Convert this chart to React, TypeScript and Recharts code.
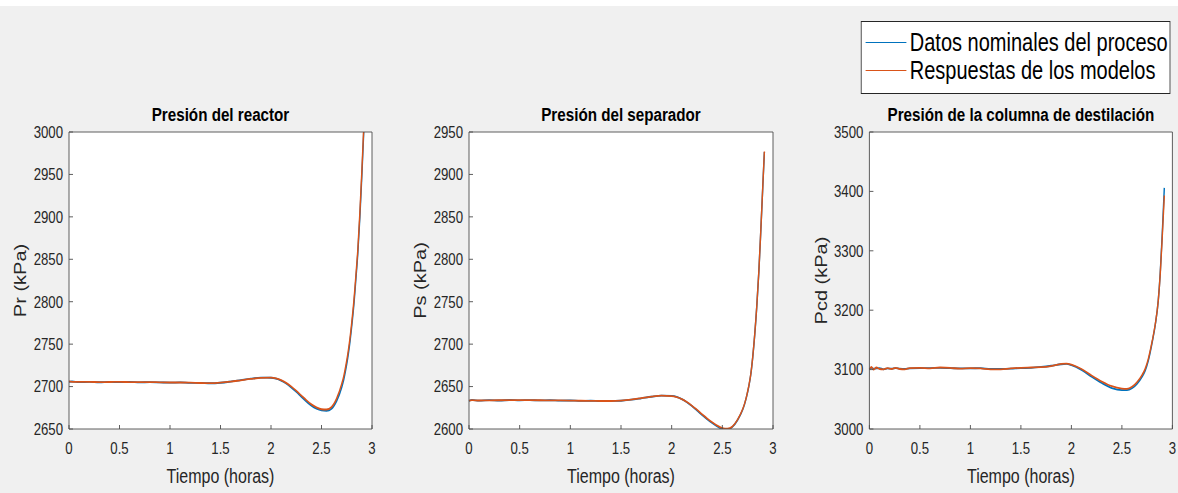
import React from 'react';
import { LineChart, Line, XAxis, YAxis, CartesianGrid, Legend } from 'recharts';

const FONT = "'Liberation Sans', Arial, Helvetica, sans-serif";

const seriesNames = ['Datos nominales del proceso', 'Respuestas de los modelos'];
const seriesColors = ['#0072BD', '#D95319'];
const panelTitles = ['Presión del reactor', 'Presión del separador', 'Presión de la columna de destilación'];
const yLabels = ['Pr (kPa)', 'Ps (kPa)', 'Pcd (kPa)'];
const xLabel = 'Tiempo (horas)';

const xTicks = [0, 0.5, 1, 1.5, 2, 2.5, 3];
const reactorTicks = [2650, 2700, 2750, 2800, 2850, 2900, 2950, 3000];
const separatorTicks = [2600, 2650, 2700, 2750, 2800, 2850, 2900, 2950];
const columnTicks = [3000, 3100, 3200, 3300, 3400, 3500];

const reactorTime = [0, 0.03, 0.1, 0.2, 0.3, 0.4, 0.5, 0.6, 0.7, 0.8, 0.9, 1.0, 1.1, 1.2, 1.3, 1.4, 1.5, 1.6, 1.7, 1.8, 1.9, 2.0, 2.05, 2.1, 2.15, 2.2, 2.25, 2.3, 2.35, 2.4, 2.45, 2.5, 2.55, 2.6, 2.65, 2.7, 2.72, 2.74, 2.76, 2.78, 2.8, 2.82, 2.84, 2.86, 2.88, 2.9, 2.92];
const reactorNominal = [2705.5, 2706, 2705.2, 2705.6, 2705.1, 2705.5, 2705.3, 2705.4, 2705, 2705.2, 2704.9, 2704.6, 2704.9, 2704.4, 2704.3, 2703.9, 2704.5, 2705.9, 2707.6, 2709.3, 2710.5, 2710.4, 2709.3, 2707, 2703.6, 2699, 2693.8, 2688, 2682.5, 2677.5, 2674, 2672, 2671.5, 2674, 2683, 2699, 2708, 2720, 2734, 2751, 2772, 2796, 2826, 2858, 2900, 2950, 3005];
const reactorModel = [2706, 2705.5, 2705.5, 2705.5, 2705.3, 2705.4, 2705.5, 2705.3, 2705.2, 2705.3, 2705, 2704.8, 2704.8, 2704.6, 2704.2, 2704, 2704.6, 2705.8, 2707.4, 2709, 2710.3, 2710.5, 2709.6, 2707.5, 2704.3, 2700, 2695, 2689.5, 2684, 2679, 2675.5, 2673.3, 2673, 2676, 2686, 2703, 2712, 2724, 2738, 2755, 2776, 2800, 2830, 2862, 2905, 2955, 3010];

const separatorTime = [0, 0.03, 0.1, 0.2, 0.3, 0.4, 0.5, 0.6, 0.7, 0.8, 0.9, 1.0, 1.1, 1.2, 1.3, 1.4, 1.5, 1.6, 1.7, 1.8, 1.9, 2.0, 2.05, 2.1, 2.15, 2.2, 2.25, 2.3, 2.35, 2.4, 2.45, 2.5, 2.55, 2.6, 2.65, 2.7, 2.72, 2.74, 2.76, 2.78, 2.8, 2.82, 2.84, 2.86, 2.88, 2.9, 2.915];
const separatorNominal = [2633, 2634.3, 2633.4, 2634, 2633.6, 2634.2, 2633.8, 2634.1, 2633.7, 2633.9, 2633.5, 2633.6, 2633.1, 2633.3, 2632.8, 2633.1, 2633.3, 2634.5, 2636.2, 2638, 2639.4, 2639, 2637.8, 2635.3, 2631.6, 2627, 2621.8, 2616.6, 2611.6, 2607, 2603, 2600, 2599.6, 2602.5, 2610.5, 2622.5, 2629.5, 2638.5, 2649.5, 2663.5, 2684.5, 2711.5, 2744.5, 2784.5, 2834.5, 2887.5, 2926.5];
const separatorModel = [2633.5, 2634, 2633.6, 2633.8, 2633.9, 2634, 2634, 2634, 2633.9, 2633.8, 2633.7, 2633.5, 2633.3, 2633.2, 2633, 2633, 2633.4, 2634.6, 2636.4, 2638.2, 2639.3, 2638.8, 2637.5, 2635.2, 2631.8, 2627.5, 2622.6, 2617.5, 2612.5, 2608, 2604, 2601, 2600.3, 2603, 2611, 2623, 2630, 2639, 2650, 2664, 2685, 2712, 2745, 2785, 2835, 2888, 2927];

const columnTime = [0, 0.02, 0.04, 0.07, 0.1, 0.14, 0.18, 0.22, 0.26, 0.3, 0.35, 0.4, 0.5, 0.6, 0.7, 0.8, 0.9, 1.0, 1.1, 1.2, 1.3, 1.4, 1.5, 1.6, 1.7, 1.8, 1.9, 1.95, 2.0, 2.1, 2.2, 2.3, 2.4, 2.5, 2.55, 2.6, 2.65, 2.7, 2.73, 2.76, 2.8, 2.83, 2.86, 2.88, 2.9, 2.92];
const columnNominal = [3101, 3103, 3101.5, 3102, 3102.5, 3100.5, 3102, 3101.5, 3102.5, 3101.5, 3101, 3102, 3102.5, 3102.5, 3103, 3102.5, 3102, 3102, 3102.5, 3101, 3101, 3101.5, 3102.5, 3103, 3104.5, 3106.5, 3109, 3109.5, 3107.5, 3099.5, 3088, 3077.5, 3069, 3065.5, 3065.5, 3068.5, 3076, 3088, 3098, 3114, 3146, 3175, 3216, 3264, 3330, 3406];
const columnModel = [3100, 3104.5, 3100, 3103.5, 3101, 3100.5, 3102.5, 3101, 3103, 3101, 3100.5, 3102.5, 3103, 3102, 3103.5, 3103, 3101.5, 3102.5, 3102, 3100.5, 3100.5, 3102, 3103, 3103.5, 3104, 3106, 3109.5, 3110, 3108.5, 3101, 3090, 3080, 3072, 3068, 3067.5, 3071, 3079, 3091, 3101, 3117, 3148, 3176, 3216, 3262, 3325, 3393];

const buildRows = (time: number[], nominal: number[], model: number[]) =>
  time.map((t, i) => ({ t, nominal: nominal[i], model: model[i] }));

// The reference figure is horizontally compressed; draw wider and squeeze.
const S = 0.8;
const AXIS_COLOR = '#4d4d4d';
const TICK_COLOR = '#262626';

const LEGEND_W = 309 / S;
const renderLegend = (props: any) => {
  const payload = props.payload || [];
  return (
    <div
      style={{
        width: LEGEND_W,
        height: 73,
        boxSizing: 'border-box',
        border: '1px solid #262626',
        background: '#ffffff',
        position: 'relative',
        fontFamily: FONT,
      }}
    >
      {payload.map((p: any, i: number) => (
        <div
          key={i}
          style={{ position: 'absolute', left: 5, top: 6 + i * 28, height: 28, display: 'flex', alignItems: 'center' }}
        >
          <div style={{ width: 51, height: 0, borderTop: `1.5px solid ${p.color}` }} />
          <span style={{ marginLeft: 4, fontSize: 25, color: '#000', lineHeight: '28px', whiteSpace: 'nowrap' }}>
            {p.value}
          </span>
        </div>
      ))}
    </div>
  );
};

type PanelProps = {
  left: number;
  width: number;
  plotLeft: number;
  plotRight: number;
  data: any[];
  yDomain: [number, number];
  yTicks: number[];
  title: string;
  yLabel: string;
  yLabelX: number;
  showLegend?: boolean;
};

const PLOT_TOP = 132;
const PLOT_BOTTOM = 429;
const H = 493;
const Y_AXIS_W = 60 / S;
const X_AXIS_H = 60;

function Panel(p: PanelProps) {
  const left = p.left / S;
  const width = p.width / S;
  const plotLeft = p.plotLeft / S;
  const plotRight = p.plotRight / S;
  const margin = {
    top: PLOT_TOP - 1,
    bottom: H - PLOT_BOTTOM - X_AXIS_H,
    left: plotLeft - left - Y_AXIS_W,
    right: left + width - plotRight - 1,
  };
  const yLabelOffset = (p.yLabelX - p.left) / S - margin.left;
  return (
    <div style={{ position: 'absolute', left, top: 0, width, height: H }}>
      <LineChart width={width} height={H} data={p.data} margin={margin}>
        <CartesianGrid fill="#ffffff" horizontal={false} vertical={false} />
        <XAxis
          dataKey="t"
          type="number"
          domain={[0, 3]}
          ticks={xTicks}
          interval={0}
          height={X_AXIS_H}
          stroke={AXIS_COLOR}
          tickSize={-4}
          tickMargin={17}
          tick={{ fill: TICK_COLOR, fontSize: 16.5, fontFamily: FONT }}
          label={{ value: xLabel, position: 'insideBottom', offset: 6, fill: TICK_COLOR, fontSize: 20, fontFamily: FONT }}
        />
        <XAxis
          xAxisId="top"
          orientation="top"
          dataKey="t"
          type="number"
          domain={[0, 3]}
          ticks={xTicks}
          interval={0}
          height={1}
          stroke={AXIS_COLOR}
          tickSize={-4}
          tick={false}
          label={{ value: p.title, position: 'top', offset: 9.5, fill: '#000', fontSize: 19, fontWeight: 'bold', fontFamily: FONT }}
        />
        <YAxis
          type="number"
          domain={p.yDomain}
          ticks={p.yTicks}
          interval={0}
          allowDataOverflow
          width={Y_AXIS_W}
          stroke={AXIS_COLOR}
          tickSize={-5}
          tickMargin={12.5}
          tick={{ fill: TICK_COLOR, fontSize: 16.5, fontFamily: FONT }}
          label={{
            value: p.yLabel,
            angle: -90,
            position: 'insideLeft',
            offset: yLabelOffset,
            fill: TICK_COLOR,
            fontSize: 20,
            fontFamily: FONT,
            style: { textAnchor: 'middle' },
          }}
        />
        <YAxis
          yAxisId="right"
          orientation="right"
          type="number"
          domain={p.yDomain}
          ticks={p.yTicks}
          interval={0}
          allowDataOverflow
          width={1}
          stroke={AXIS_COLOR}
          tickSize={-5}
          tick={false}
        />
        {p.showLegend && (
          <Legend
            layout="horizontal"
            verticalAlign="middle"
            align="center"
            content={renderLegend}
            wrapperStyle={{ left: (861 - p.left) / S, top: 21, width: LEGEND_W, height: 73 }}
          />
        )}
        <Line
          dataKey="nominal"
          name={seriesNames[0]}
          stroke={seriesColors[0]}
          strokeWidth={1.8}
          dot={false}
          type="monotone"
          isAnimationActive={false}
        />
        <Line
          dataKey="model"
          name={seriesNames[1]}
          stroke={seriesColors[1]}
          strokeWidth={1.8}
          dot={false}
          type="monotone"
          isAnimationActive={false}
        />
      </LineChart>
    </div>
  );
}

export default function App() {
  const reactorRows = buildRows(reactorTime, reactorNominal, reactorModel);
  const separatorRows = buildRows(separatorTime, separatorNominal, separatorModel);
  const columnRows = buildRows(columnTime, columnNominal, columnModel);
  return (
    <div
      style={{
        position: 'absolute',
        left: 0,
        top: 0,
        width: 1178 / S,
        height: 493,
        background: '#f0f0f0',
        overflow: 'hidden',
        fontFamily: FONT,
        transform: `scaleX(${S})`,
        transformOrigin: '0 0',
      }}
    >
      <div style={{ position: 'absolute', left: 0, top: 0, width: 1178 / S, height: 6, background: '#ffffff' }} />
      <Panel
        left={0}
        width={400}
        plotLeft={69}
        plotRight={372}
        data={reactorRows}
        yDomain={[2650, 3000]}
        yTicks={reactorTicks}
        title={panelTitles[0]}
        yLabel={yLabels[0]}
        yLabelX={20}
      />
      <Panel
        left={400}
        width={390}
        plotLeft={469}
        plotRight={773}
        data={separatorRows}
        yDomain={[2600, 2950]}
        yTicks={separatorTicks}
        title={panelTitles[1]}
        yLabel={yLabels[1]}
        yLabelX={420}
      />
      <Panel
        left={790}
        width={388}
        plotLeft={869}
        plotRight={1172}
        data={columnRows}
        yDomain={[3000, 3500]}
        yTicks={columnTicks}
        title={panelTitles[2]}
        yLabel={yLabels[2]}
        yLabelX={821}
        showLegend
      />
    </div>
  );
}
